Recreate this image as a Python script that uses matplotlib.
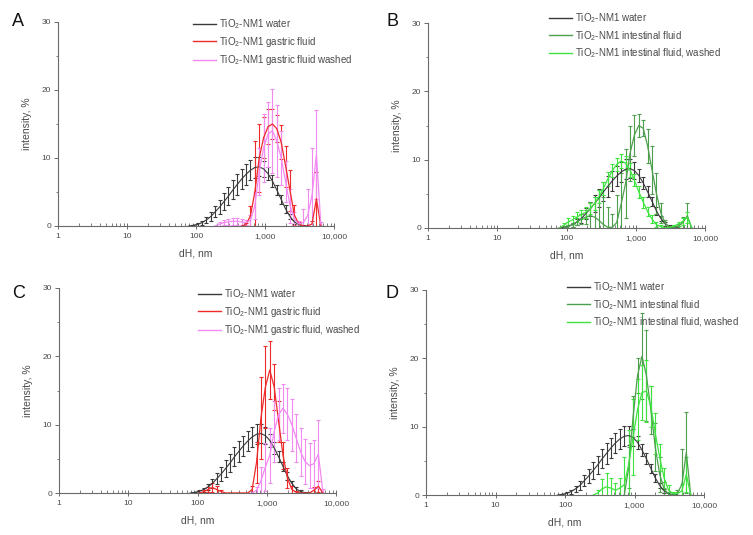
import numpy as np
import matplotlib
matplotlib.use('Agg')
import matplotlib.pyplot as plt
from matplotlib.lines import Line2D
from matplotlib.ticker import FixedLocator, LogLocator, NullFormatter, MultipleLocator

plt.rcParams['font.family'] = ['Liberation Sans', 'DejaVu Sans']
plt.rcParams['mathtext.default'] = 'regular'

nan = np.nan

# DLS size classes (nm)
SIZES = [78.82, 91.28, 105.7, 122.4, 141.8, 164.2, 190.1, 220.2, 255.0, 295.3, 342.0,
         396.1, 458.7, 531.2, 615.1, 712.4, 825.0, 955.4, 1106, 1281, 1484, 1718,
         1990, 2305, 2669, 3091, 3580, 4145, 4801, 5560, 6439]

# intensity (%) and error per size class
WATER = [0.0, 0.1, 0.25, 0.5, 0.9, 1.4, 2.1, 2.8, 3.6, 4.4, 5.3,
         6.1, 6.9, 7.6, 8.2, 8.6, 8.7, 8.4, 7.7, 6.6, 5.3, 3.9,
         2.5, 1.4, 0.6, 0.2, 0.05, 0.0, nan, nan, nan]
WATER_ERR = [0.0, 0.1, 0.2, 0.3, 0.4, 0.6, 0.8, 1.0, 1.2, 1.3, 1.4,
             1.5, 1.5, 1.5, 1.5, 1.5, 1.4, 1.2, 1.0, 0.9, 0.8, 0.7,
             0.6, 0.4, 0.3, 0.2, 0.1, 0.0, nan, nan, nan]

A_GASTRIC = [nan, nan, nan, nan, nan, nan, nan, nan, nan, nan, nan,
             nan, 0.0, 0.2, 1.5, 5.0, 10.0, 13.0, 14.6, 15.0, 14.3, 12.3,
             8.8, 5.2, 1.6, 0.3, 0.0, 0.0, 0.3, 4.0, 0.0]
A_GASTRIC_ERR = [nan, nan, nan, nan, nan, nan, nan, nan, nan, nan, nan,
                 nan, 0.0, 0.2, 1.5, 7.5, 5.0, 3.0, 2.6, 2.2, 2.0, 2.5,
                 3.0, 3.0, 1.5, 0.3, 0.0, 0.0, 0.5, 4.0, 0.0]
A_WASHED = [nan, nan, nan, nan, nan, nan, 0.0, 0.3, 0.5, 0.6, 0.7,
            0.7, 0.6, 0.5, 0.8, 3.0, 8.0, 11.5, 13.5, 14.0, 12.5, 10.0,
            6.5, 3.0, 1.0, 0.3, 0.5, 1.5, 4.5, 10.5, 0.3]
A_WASHED_ERR = [nan, nan, nan, nan, nan, nan, 0.0, 0.3, 0.4, 0.5, 0.5,
                0.5, 0.5, 0.4, 0.8, 2.0, 3.5, 5.0, 4.8, 6.2, 5.3, 4.0,
                3.0, 2.5, 1.0, 0.5, 2.0, 4.0, 7.0, 6.5, 0.3]

B_INTEST = [nan, 0.0, 0.2, 0.5, 0.9, 1.3, 1.6, 1.8, 1.6, 1.1, 0.5,
            0.1, 0.1, 0.8, 3.5, 6.5, 10.9, 13.6, 15.0, 14.6, 12.0, 8.5,
            5.0, 2.2, 0.7, 0.1, 0.1, 0.3, 0.8, 1.8, 0.0]
B_INTEST_ERR = [nan, 0.0, 0.2, 0.3, 0.5, 0.7, 1.0, 2.0, 3.0, 4.5, 4.0,
                3.0, 2.0, 4.0, 4.5, 5.0, 4.0, 3.0, 1.7, 1.2, 2.5, 3.5,
                3.0, 1.5, 0.5, 0.2, 0.2, 0.3, 0.8, 1.8, 0.0]
B_WASHED = [0.0, 0.4, 0.9, 1.2, 1.6, 2.0, 2.3, 2.8, 3.6, 4.6, 5.8,
            7.2, 8.4, 9.3, 9.8, 9.5, 8.5, 7.0, 5.3, 3.8, 2.4, 1.3,
            0.5, 0.2, 0.0, 0.1, 0.3, 0.6, 1.0, 1.6, 0.0]
B_WASHED_ERR = [0.0, 0.3, 0.5, 0.6, 0.7, 0.7, 0.8, 0.8, 0.9, 1.0, 1.0,
                1.0, 1.0, 1.0, 1.0, 1.0, 1.0, 0.9, 0.9, 0.8, 0.7, 0.6,
                0.4, 0.2, 0.0, 0.1, 0.2, 0.3, 0.5, 0.8, 0.0]

C_GASTRIC = [nan, nan, 0.0, 0.2, 0.5, 0.8, 0.5, 0.2, 0.0, 0.0, 0.0,
             0.0, 0.0, 0.0, 0.5, 4.5, 11.0, 15.5, 18.0, 15.5, 10.5, 5.5,
             2.2, 0.5, 0.1, 0.0, 0.0, 0.0, 0.4, 1.0, 0.0]
C_GASTRIC_ERR = [nan, nan, 0.0, 0.2, 0.4, 0.6, 0.5, 0.3, 0.0, 0.0, 0.0,
                 0.0, 0.0, 0.0, 0.5, 3.0, 6.0, 6.0, 4.3, 3.4, 3.0, 2.0,
                 1.5, 0.5, 0.2, 0.0, 0.0, 0.0, 0.5, 0.8, 0.0]
C_WASHED = [nan, nan, nan, nan, nan, nan, nan, nan, nan, nan, nan,
            nan, nan, nan, 0.0, 0.4, 1.8, 3.8, 5.5, 9.0, 11.5, 12.4,
            11.5, 10.0, 8.0, 6.0, 4.6, 4.0, 4.3, 5.7, 0.3]
C_WASHED_ERR = [nan, nan, nan, nan, nan, nan, nan, nan, nan, nan, nan,
                nan, nan, nan, 0.0, 0.5, 2.0, 3.5, 4.0, 4.5, 3.8, 3.6,
                3.8, 3.8, 3.5, 3.5, 3.3, 3.3, 3.5, 5.0, 0.3]

D_INTEST = [nan, nan, nan, nan, nan, nan, nan, nan, nan, nan, nan,
            nan, nan, nan, nan, 0.0, 4.0, 11.5, 17.5, 20.3, 17.5, 12.5,
            7.0, 3.0, 0.9, 0.1, 0.0, 0.3, 1.5, 6.2, 0.0]
D_INTEST_ERR = [nan, nan, nan, nan, nan, nan, nan, nan, nan, nan, nan,
                nan, nan, nan, nan, 0.0, 3.0, 3.0, 2.5, 6.3, 6.7, 3.5,
                3.5, 2.5, 1.0, 0.3, 0.0, 0.5, 5.3, 5.9, 0.0]
D_WASHED = [nan, nan, nan, nan, nan, nan, nan, nan, 0.0, 0.3, 0.9,
            1.2, 1.0, 0.7, 1.0, 1.5, 4.5, 8.5, 12.5, 15.0, 15.2, 13.0,
            9.0, 5.5, 2.5, 0.7, 0.2, 0.2, 0.6, 3.0, 0.0]
D_WASHED_ERR = [nan, nan, nan, nan, nan, nan, nan, nan, 0.0, 0.5, 1.5,
                2.0, 1.5, 1.0, 1.5, 4.0, 5.0, 5.5, 4.5, 4.0, 4.5, 3.0,
                3.0, 2.0, 1.5, 0.8, 0.3, 0.3, 1.0, 2.5, 0.0]

XTICKS = [1, 10, 100, 1000, 10000]
XTICK_LABELS = ['1', '10', '100', '1,000', '10,000']

GASTRIC_LABELS = ['TiO$_2$-NM1 water', 'TiO$_2$-NM1 gastric fluid']
INTEST_LABELS = ['TiO$_2$-NM1 water', 'TiO$_2$-NM1 intestinal fluid',
                 'TiO$_2$-NM1 intestinal fluid, washed']

C_WATER = '#3a3a3a'
C_RED = '#ee2a2a'
C_PINK = '#f28af2'
C_DKGREEN = '#4d9f4d'
C_LTGREEN = '#3fe33f'
C_TEXT = '#4a4a4a'
C_AXIS = '#6a6a6a'

W, H = 753, 535
fig = plt.figure(figsize=(W / 100, H / 100), dpi=100)


def px_axes(x0, y0, x1, y1):
    return fig.add_axes([x0 / W, 1 - y1 / H, (x1 - x0) / W, (y1 - y0) / H])


def series(ax, y, err, color, lw=0.9):
    ax.errorbar(SIZES, y, yerr=err, color=color, lw=lw, elinewidth=0.8,
                capsize=1.6, capthick=0.8)


def panel(box, letter, letter_xy, leg_xy, fluid, fluid_err, washed, washed_err,
          c_fluid, c_washed, labels):
    ax = px_axes(*box)
    series(ax, WATER, WATER_ERR, C_WATER, lw=0.8)
    series(ax, fluid, fluid_err, c_fluid)
    series(ax, washed, washed_err, c_washed)

    ax.set_xscale('log')
    ax.set_xlim(1, 10000)
    ax.set_ylim(0, 30)
    ax.xaxis.set_major_locator(FixedLocator(XTICKS))
    ax.set_xticklabels(XTICK_LABELS)
    ax.xaxis.set_minor_locator(LogLocator(base=10, subs=np.arange(2, 10)))
    ax.xaxis.set_minor_formatter(NullFormatter())
    ax.yaxis.set_major_locator(MultipleLocator(10))
    ax.yaxis.set_minor_locator(MultipleLocator(5))

    for s in ['top', 'right']:
        ax.spines[s].set_visible(False)
    for s in ['left', 'bottom']:
        ax.spines[s].set_color(C_AXIS)
        ax.spines[s].set_linewidth(0.8)
    ax.tick_params(axis='x', which='major', direction='inout', length=4,
                   width=0.7, color=C_AXIS, labelsize=6, labelcolor=C_TEXT, pad=3)
    ax.tick_params(axis='x', which='minor', direction='in', length=2,
                   width=0.6, color=C_AXIS)
    ax.tick_params(axis='y', which='major', direction='out', length=3,
                   width=0.7, color=C_AXIS, labelsize=6, labelcolor=C_TEXT, pad=2)
    ax.tick_params(axis='y', which='minor', direction='out', length=1.5,
                   width=0.6, color=C_AXIS)

    ax.set_xlabel('dH, nm', fontsize=7.5, color=C_TEXT, labelpad=6)
    ax.set_ylabel('intensity, %', fontsize=7.5, color=C_TEXT, labelpad=7)

    handles = [Line2D([], [], color=c, lw=1.0) for c in (C_WATER, c_fluid, c_washed)]
    ax.legend(handles, labels, loc='upper left',
              bbox_to_anchor=(leg_xy[0] / W, 1 - leg_xy[1] / H),
              bbox_transform=fig.transFigure, frameon=False, fontsize=7,
              handlelength=2.4, handletextpad=0.3, labelspacing=0.42,
              borderpad=0, borderaxespad=0, labelcolor=C_TEXT)

    fig.text(letter_xy[0] / W, 1 - letter_xy[1] / H, letter, fontsize=13,
             ha='center', va='center', color='#111111')


panel((58, 22, 334, 226), 'A', (18, 21), (193, 17),
      A_GASTRIC, A_GASTRIC_ERR, A_WASHED, A_WASHED_ERR, C_RED, C_PINK,
      GASTRIC_LABELS + ['TiO$_2$-NM1 gastric fluid washed'])
panel((428, 23, 705, 228), 'B', (393, 21), (549, 11),
      B_INTEST, B_INTEST_ERR, B_WASHED, B_WASHED_ERR, C_DKGREEN, C_LTGREEN,
      INTEST_LABELS)
panel((59, 288, 336, 493), 'C', (19, 293), (198, 287),
      C_GASTRIC, C_GASTRIC_ERR, C_WASHED, C_WASHED_ERR, C_RED, C_PINK,
      GASTRIC_LABELS + ['TiO$_2$-NM1 gastric fluid, washed'])
panel((426, 290, 704, 495), 'D', (392, 293), (567, 280),
      D_INTEST, D_INTEST_ERR, D_WASHED, D_WASHED_ERR, C_DKGREEN, C_LTGREEN,
      INTEST_LABELS)

fig.savefig('out.png', dpi=100)
